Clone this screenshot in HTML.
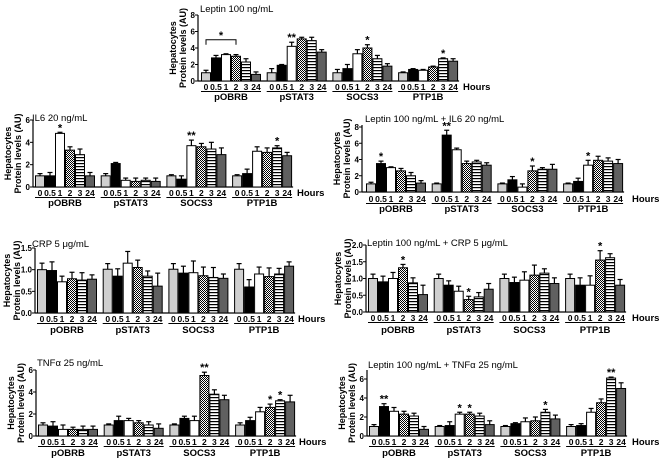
<!DOCTYPE html>
<html><head><meta charset="utf-8">
<style>
html,body{margin:0;padding:0;background:#fff;}
svg{display:block;font-family:"Liberation Sans",Arial,sans-serif;}
</style></head>
<body>
<svg id="fig" width="660" height="458" viewBox="0 0 660 458" xmlns="http://www.w3.org/2000/svg">
<defs>
<pattern id="chk" width="2" height="2" patternUnits="userSpaceOnUse"><rect width="2" height="2" fill="#fff"/><rect width="1" height="1" fill="#000"/><rect x="1" y="1" width="1" height="1" fill="#000"/></pattern>
<pattern id="hstr" width="4" height="3" patternUnits="userSpaceOnUse"><rect width="4" height="3" fill="#fff"/><rect y="1" width="4" height="1.2" fill="#000"/></pattern>
</defs>
</svg>
<script>
// ---- data ----
const proteins = ["pOBRB","pSTAT3","SOCS3","PTP1B"];
const hours = ["0","0.5","1","2","3","24"];

const leptinVals = [[1,2.8,3.2,3.0,2.3,0.8],[1,1.9,4.2,5.1,4.9,3.5],[1,1.5,3.3,4.0,2.7,1.8],[1,1.4,1.3,1.7,2.7,2.4]];
const leptinErr  = [[.3,.3,.1,.2,.4,.3],[.5,.1,.5,.2,.4,.3],[.4,.5,.5,.4,.4,.3],[.1,.1,.1,.1,.1,.3]];
const leptinStars = [[0,3,"*"],[1,2,"**"],[2,3,"*"],[3,4,"*"]];

const il6Vals = [[1,1,4.8,3.3,2.9,1],[1,2.1,.6,.5,.6,.5],[1,.7,3.7,3.6,3.4,2.9],[1,1.2,3.2,3.1,3.5,2.8]];
const il6Err  = [[.2,.3,.1,.3,.5,.3],[.2,.1,.2,.3,.2,.3],[.1,.3,.5,.3,.6,.6],[.1,.4,.4,.4,.2,.3]];
const il6Stars = [[0,2,"*"],[2,2,"**"],[3,4,"*"]];

const lepIl6Vals = [[1,3.5,3,2.6,2,1.1],[1,7,5.2,3.5,3.7,3.3],[1,1.5,.6,2.6,2.8,2.8],[1,1.3,3.3,3.9,3.8,3.5]];
const lepIl6Err  = [[.2,.3,.1,.3,.4,.3],[.1,.6,.2,.3,.2,.3],[.1,.4,.4,.6,.2,.6],[.1,.4,.6,.5,.4,.5]];
const lepIl6Stars = [[0,1,"*"],[1,1,"**"],[2,3,"*"],[3,2,"*"]];

const crpVals = [[1,.98,.72,.79,.76,.78],[1.01,.85,1.15,1.05,.85,.62],[1.01,.92,.93,.86,.82,.8],[1.01,.6,.9,.84,.9,1.08]];
const crpErr  = [[.15,.2,.13,.15,.17,.1],[.13,.17,.27,.17,.12,.3],[.13,.16,.27,.2,.23,.1],[.13,.17,.16,.2,.13,.1]];
const crpStars = [];

const lepCrpVals = [[1,.9,1,1.32,.87,.52],[1,.8,.62,.37,.45,.68],[1,.88,.95,1.1,1.16,.85],[1,.8,.8,1.55,1.62,.8]];
const lepCrpErr  = [[.13,.17,.18,.1,.15,.28],[.13,.13,.15,.1,.13,.17],[.13,.16,.25,.3,.13,.17],[.13,.22,.28,.28,.12,.17]];
const lepCrpStars = [[0,3,"*"],[1,3,"*"],[3,3,"*"]];

const tnfVals = [[1,.9,.6,.6,.6,.6],[1,1.4,1.4,1.2,1,.7],[1,1.6,1.4,5.5,3.8,3.3],[1,1.4,2.2,2.6,3.2,3.1]];
const tnfErr  = [[.2,.4,.4,.2,.3,.3],[.1,.4,.2,.2,.3,.4],[.1,.2,.4,.3,.4,.4],[.2,.3,.4,.3,.1,.6]];
const tnfStars = [[2,3,"**"],[3,3,"*"],[3,4,"*"]];

const lepTnfVals = [[1,3.1,2.6,2.3,2.1,.7],[1,1.1,2.3,2.3,2.1,1.2],[1,1.3,1.5,1.6,2.5,1.8],[1,1.1,2.5,3.5,6.1,5]];
const lepTnfErr  = [[.2,.3,.4,.3,.3,.3],[.1,.4,.2,.2,.3,.4],[.1,.1,.4,.4,.3,.4],[.2,.2,.4,.4,.1,.6]];
const lepTnfStars = [[0,1,"**"],[1,2,"*"],[1,3,"*"],[2,4,"*"],[3,4,"**"]];

const ticksA = ["0","2","4","6","8"];
const ticksB = ["0","2","4","6"];
const ticksC = ["0.0","0.5","1.0","1.5"];
const ticksD = ["0.0","0.5","1.0","1.5","2.0"];

// ---- layout ----
const panels = [
 {name:"leptin",title:"Leptin 100 ng/mL",vals:leptinVals,err:leptinErr,stars:leptinStars,ticks:ticksA,bracket:true,yto:13,
  ax:198,y0:81,yTop:15,vTop:8,axTop:15,gx0:201,tk:90,ul:91.5,lb:100,hx:463,tx:200,ty:12},
 {name:"il6",title:"IL6 20 ng/mL",vals:il6Vals,err:il6Err,stars:il6Stars,ticks:ticksB,yto:13,
  ax:33,y0:187,yTop:120,vTop:6,axTop:120,gx0:35,tk:196,ul:197.5,lb:206,hx:297,tx:32,ty:121},
 {name:"leptin-il6",title:"Leptin 100 ng/mL + IL6 20 ng/mL",vals:lepIl6Vals,err:lepIl6Err,stars:lepIl6Stars,ticks:ticksA,yto:13,
  ax:362,y0:192,yTop:127,vTop:8,axTop:125,gx0:366,tk:202,ul:203.5,lb:212,hx:632,tx:365,ty:122},
 {name:"crp",title:"CRP 5 \u03bcg/mL",vals:crpVals,err:crpErr,stars:crpStars,ticks:ticksC,yto:16,
  ax:35,y0:313,yTop:248,vTop:1.5,axTop:248,gx0:37,tk:322,ul:323.5,lb:333,hx:298,tx:32,ty:247},
 {name:"leptin-crp",title:"Leptin 100 ng/mL + CRP 5 \u03bcg/mL",vals:lepCrpVals,err:lepCrpErr,stars:lepCrpStars,ticks:ticksD,yto:16,
  ax:366,y0:312,yTop:245,vTop:2,axTop:245,gx0:368,tk:321,ul:322.5,lb:333,hx:632,tx:367,ty:246},
 {name:"tnf",title:"TNF\u03b1 25 ng/mL",vals:tnfVals,err:tnfErr,stars:tnfStars,ticks:ticksB,yto:13,
  ax:36,y0:436,yTop:370,vTop:6,axTop:370,gx0:38,tk:445,ul:446.5,lb:456,hx:299,tx:37,ty:366},
 {name:"leptin-tnf",title:"Leptin 100 ng/mL + TNF\u03b1 25 ng/mL",vals:lepTnfVals,err:lepTnfErr,stars:lepTnfStars,ticks:ticksB,yto:13,
  ax:367,y0:436,yTop:379,vTop:6,axTop:370,gx0:369,tk:445,ul:446.5,lb:456,hx:632,tx:368,ty:368}
];
const fills = ["#cfcfcf","#000","#fff","url(#chk)","url(#hstr)","#606060"];
const BW = 10, GSTEP = 65.7;
const NS = "http://www.w3.org/2000/svg";
const svg = document.getElementById("fig");
function mk(tag, attrs, parent, text){
  const e = document.createElementNS(NS, tag);
  for (const k in attrs) e.setAttribute(k, attrs[k]);
  if (text !== undefined) e.textContent = text;
  (parent||svg).appendChild(e);
  return e;
}
panels.forEach(p => {
  const g = mk("g", {});
  
  
  const y = v => p.y0 - (v / p.vTop) * (p.y0 - p.yTop);
  const bx = (gi, bi) => p.gx0 + gi * GSTEP + bi * BW;
  const t = mk("text", {x:p.tx, y:p.ty, "font-size":9.5, fill:"#000"}, g, p.title);
  
  
  const cy = (p.y0 + p.axTop) / 2;
  const yt = mk("text", {transform:`translate(${p.ax-p.yto},${cy}) rotate(-90)`, "text-anchor":"middle", "font-size":9, "font-weight":"bold"}, g);
  
  
  mk("tspan", {x:0, dy:-9}, yt, "Hepatocytes");
  mk("tspan", {x:0, dy:10}, yt, "Protein levels (AU)");
  const ya = mk("line", {x1:p.ax, x2:p.ax, y1:p.axTop, y2:p.y0, stroke:"#000", "stroke-width":1.2}, g);
  
  
  p.ticks.forEach(tv => {
    const yy = y(parseFloat(tv));
    mk("line", {x1:p.ax-3, x2:p.ax, y1:yy, y2:yy, stroke:"#000", "stroke-width":1}, g);
    const tl = mk("text", {x:p.ax-3, y:yy+3, "text-anchor":"end", "font-size":8, "font-weight":"bold"}, g, tv);
    
    
  });
  const xa = mk("line", {x1:p.ax, x2:bx(3,6)+1, y1:p.y0, y2:p.y0, stroke:"#000", "stroke-width":1.2}, g);
  
  
  p.vals.forEach((grp, gi) => {
    grp.forEach((v, bi) => {
      const x = bx(gi, bi), top = y(v), e = p.err[gi][bi];
      const r = mk("rect", {x:x+0.5, y:top, width:BW-1, height:p.y0-top, fill:fills[bi], stroke:"#000", "stroke-width":1}, g);
      
      
      const et = y(v + e);
      mk("line", {x1:x+BW/2, x2:x+BW/2, y1:top, y2:et, stroke:"#000", "stroke-width":1.2}, g);
      mk("line", {x1:x+BW/2-2.5, x2:x+BW/2+2.5, y1:et, y2:et, stroke:"#000", "stroke-width":1.2}, g);
      const hl = mk("text", {x:x+BW/2, y:p.tk, "text-anchor":"middle", "font-size":8.5, "font-weight":"bold"}, g, hours[bi]);
      
      
    });
    mk("line", {x1:bx(gi,0), x2:bx(gi,6), y1:p.ul, y2:p.ul, stroke:"#000", "stroke-width":1}, g);
    const gl = mk("text", {x:bx(gi,3), y:p.lb, "text-anchor":"middle", "font-size":9.5, "font-weight":"bold"}, g, proteins[gi]);
    
    
  });
  const hx = mk("text", {x:p.hx, y:p.tk, "font-size":9.5, "font-weight":"bold"}, g, "Hours");
  
  
  p.stars.forEach(s => {
    const [gi, bi, txt] = s;
    const v = p.vals[gi][bi] + p.err[gi][bi];
    let sx = bx(gi, bi) + BW/2, base = y(v) - 1;
    if (p.bracket && gi === 0) {
      const by = y(5.0);
      mk("path", {d:`M${bx(0,0)+BW/2} ${by+5}V${by}H${bx(0,3)+BW/2}V${by+5}`, fill:"none", stroke:"#000", "stroke-width":1}, g);
      sx = (bx(0,0) + bx(0,3)) / 2 + BW/2; base = by - 1;
    }
    const st = mk("text", {x:sx, y:base, "text-anchor":"middle", "font-size":11, "font-weight":"bold"}, g, txt);
    
    
  });
});
</script>
</body></html>
